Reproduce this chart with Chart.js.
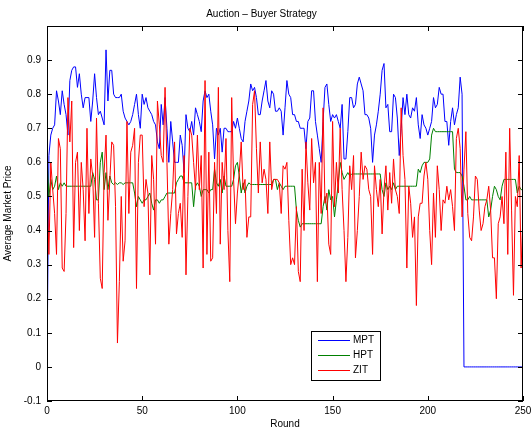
<!DOCTYPE html>
<html>
<head>
<meta charset="utf-8">
<script src="https://cdn.jsdelivr.net/npm/chart.js@4"></script>
<style>
  body { margin: 0; background: #fff; }
  canvas { display: block; }
</style>
</head>
<body>
<canvas id="chart" width="531" height="432"></canvas>
<script>
// rounds 0..250 on the x axis
const rounds = Array.from({ length: 251 }, (_, i) => i);

const seriesNames = ['MPT', 'HPT', 'ZIT'];

const mpt = [
  0.00, 0.62, 0.68, 0.70, 0.71, 0.81, 0.78, 0.74, 0.81, 0.77,
  0.74, 0.68, 0.84, 0.87, 0.88, 0.88, 0.82, 0.86, 0.80, 0.76,
  0.79, 0.79, 0.79, 0.72, 0.78, 0.86, 0.79, 0.74, 0.75, 0.73,
  0.71, 0.93, 0.78, 0.87, 0.87, 0.80, 0.79, 0.79, 0.79, 0.80,
  0.75, 0.73, 0.72, 0.71, 0.72, 0.74, 0.77, 0.80, 0.74, 0.70,
  0.80, 0.77, 0.79, 0.76, 0.75, 0.74, 0.72, 0.71, 0.66, 0.64,
  0.77, 0.71, 0.79, 0.70, 0.60, 0.72, 0.66, 0.60, 0.60, 0.60,
  0.68, 0.65, 0.57, 0.74, 0.70, 0.69, 0.72, 0.68, 0.76, 0.74,
  0.72, 0.69, 0.78, 0.81, 0.79, 0.80, 0.75, 0.71, 0.61, 0.70,
  0.68, 0.70, 0.63, 0.70, 0.70, 0.69, 0.69, 0.69, 0.72, 0.70,
  0.73, 0.70, 0.67, 0.66, 0.72, 0.75, 0.78, 0.83, 0.81, 0.82,
  0.79, 0.74, 0.74, 0.78, 0.81, 0.84, 0.78, 0.76, 0.81, 0.80,
  0.75, 0.75, 0.76, 0.75, 0.68, 0.76, 0.84, 0.80, 0.79, 0.74,
  0.74, 0.72, 0.72, 0.70, 0.70, 0.70, 0.64, 0.72, 0.73, 0.81,
  0.81, 0.72, 0.68, 0.64, 0.60, 0.72, 0.82, 0.83, 0.77, 0.72,
  0.74, 0.73, 0.74, 0.72, 0.70, 0.77, 0.61, 0.61, 0.69, 0.79,
  0.79, 0.76, 0.77, 0.83, 0.85, 0.83, 0.81, 0.74, 0.74, 0.73,
  0.70, 0.60, 0.68, 0.71, 0.75, 0.80, 0.87, 0.89, 0.76, 0.77,
  0.69, 0.69, 0.80, 0.79, 0.73, 0.62, 0.70, 0.79, 0.74, 0.80,
  0.74, 0.73, 0.76, 0.75, 0.79, 0.71, 0.67, 0.74, 0.71, 0.70,
  0.68, 0.70, 0.72, 0.79, 0.76, 0.77, 0.82, 0.80, 0.80, 0.72,
  0.72, 0.65, 0.72, 0.76, 0.71, 0.74, 0.76, 0.85, 0.80, 0.00,
  0, 0, 0, 0, 0, 0, 0, 0, 0, 0,
  0, 0, 0, 0, 0, 0, 0, 0, 0, 0,
  0, 0, 0, 0, 0, 0, 0, 0, 0, 0,
  0
];

const hpt = [
  0.62, 0.50, 0.55, 0.52, 0.53, 0.56, 0.52, 0.54, 0.53, 0.54,
  0.53, 0.53, 0.53, 0.53, 0.53, 0.53, 0.53, 0.53, 0.53, 0.53,
  0.53, 0.53, 0.53, 0.53, 0.57, 0.55, 0.49, 0.49, 0.60, 0.63,
  0.52, 0.57, 0.52, 0.56, 0.54, 0.535, 0.54, 0.535, 0.54, 0.54,
  0.535, 0.54, 0.54, 0.54, 0.54, 0.54, 0.51, 0.47, 0.50, 0.49,
  0.48, 0.49, 0.49, 0.50, 0.51, 0.48, 0.46, 0.49, 0.49, 0.48,
  0.49, 0.49, 0.50, 0.51, 0.51, 0.51, 0.51, 0.51, 0.54, 0.55,
  0.56, 0.56, 0.54, 0.54, 0.54, 0.54, 0.54, 0.47, 0.53, 0.54,
  0.53, 0.50, 0.52, 0.52, 0.52, 0.51, 0.52, 0.52, 0.58, 0.54,
  0.53, 0.55, 0.51, 0.56, 0.53, 0.53, 0.53, 0.53, 0.55, 0.59,
  0.60, 0.56, 0.51, 0.54, 0.51, 0.53, 0.54, 0.535, 0.535, 0.535,
  0.535, 0.535, 0.535, 0.535, 0.535, 0.535, 0.535, 0.535, 0.535, 0.55,
  0.55, 0.52, 0.54, 0.53, 0.52, 0.53, 0.53, 0.53, 0.53, 0.53,
  0.53, 0.46, 0.43, 0.41, 0.42, 0.42, 0.42, 0.42, 0.42, 0.42,
  0.42, 0.42, 0.42, 0.42, 0.42, 0.47, 0.50, 0.46, 0.52, 0.49,
  0.50, 0.44, 0.49, 0.54, 0.60, 0.57, 0.55, 0.56, 0.57, 0.56,
  0.566, 0.566, 0.566, 0.566, 0.566, 0.566, 0.566, 0.566, 0.566, 0.566,
  0.566, 0.566, 0.566, 0.566, 0.566, 0.566, 0.52, 0.50, 0.54, 0.52,
  0.53, 0.52, 0.54, 0.52, 0.53, 0.53, 0.53, 0.53, 0.53, 0.53,
  0.53, 0.53, 0.53, 0.53, 0.53, 0.58, 0.57, 0.59, 0.60, 0.60,
  0.60, 0.61, 0.68, 0.70, 0.69, 0.69, 0.69, 0.69, 0.69, 0.69,
  0.69, 0.69, 0.69, 0.69, 0.58, 0.57, 0.57, 0.57, 0.56, 0.53,
  0.49, 0.49, 0.50, 0.49, 0.49, 0.49, 0.49, 0.49, 0.49, 0.49,
  0.49, 0.49, 0.44, 0.46, 0.50, 0.53, 0.52, 0.50, 0.49, 0.53,
  0.55, 0.55, 0.55, 0.55, 0.55, 0.55, 0.55, 0.51, 0.53, 0.52,
  0.52
];

const zit = [
  0.55, 0.33, 0.60, 0.52, 0.45, 0.33, 0.67, 0.64, 0.29, 0.28,
  0.45, 0.79, 0.66, 0.78, 0.35, 0.60, 0.63, 0.40, 0.60, 0.52,
  0.37, 0.70, 0.45, 0.61, 0.56, 0.38, 0.73, 0.48, 0.26, 0.23,
  0.57, 0.68, 0.43, 0.55, 0.66, 0.65, 0.47, 0.07, 0.25, 0.50,
  0.31, 0.37, 0.72, 0.45, 0.63, 0.65, 0.70, 0.23, 0.60, 0.68,
  0.68, 0.47, 0.55, 0.51, 0.27, 0.62, 0.55, 0.36, 0.78, 0.71,
  0.62, 0.60, 0.82, 0.60, 0.36, 0.45, 0.52, 0.66, 0.39, 0.45,
  0.48, 0.38, 0.62, 0.27, 0.50, 0.70, 0.68, 0.60, 0.52, 0.68,
  0.52, 0.62, 0.29, 0.84, 0.33, 0.63, 0.31, 0.32, 0.60, 0.45,
  0.82, 0.36, 0.60, 0.52, 0.67, 0.40, 0.25, 0.79, 0.55, 0.42,
  0.51, 0.57, 0.66, 0.52, 0.55, 0.38, 0.44, 0.44, 0.77, 0.81,
  0.64, 0.51, 0.66, 0.54, 0.58, 0.55, 0.45, 0.66, 0.52, 0.55,
  0.55, 0.55, 0.54, 0.45, 0.59, 0.58, 0.60, 0.43, 0.30, 0.32,
  0.30, 0.47, 0.28, 0.25, 0.58, 0.40, 0.66, 0.54, 0.46, 0.67,
  0.54, 0.60, 0.25, 0.60, 0.45, 0.76, 0.48, 0.51, 0.36, 0.33,
  0.72, 0.47, 0.60, 0.51, 0.70, 0.52, 0.40, 0.25, 0.38, 0.59,
  0.52, 0.62, 0.32, 0.40, 0.50, 0.63, 0.55, 0.59, 0.58, 0.52,
  0.50, 0.33, 0.59, 0.52, 0.47, 0.55, 0.39, 0.52, 0.59, 0.46,
  0.57, 0.48, 0.61, 0.52, 0.50, 0.45, 0.76, 0.62, 0.55, 0.29,
  0.53, 0.48, 0.38, 0.44, 0.18, 0.44, 0.48, 0.48, 0.56, 0.60,
  0.55, 0.40, 0.30, 0.51, 0.38, 0.59, 0.52, 0.40, 0.49, 0.48,
  0.53, 0.49, 0.52, 0.47, 0.40, 0.67, 0.70, 0.64, 0.44, 0.58,
  0.69, 0.45, 0.38, 0.37, 0.44, 0.56, 0.55, 0.46, 0.40, 0.42,
  0.47, 0.49, 0.53, 0.46, 0.32, 0.32, 0.20, 0.42, 0.44, 0.50,
  0.42, 0.63, 0.33, 0.70, 0.46, 0.21, 0.50, 0.47, 0.62, 0.29,
  0.45
];

const xTicks = [0, 50, 100, 150, 200, 250];
const yTicks = [-0.1, 0, 0.1, 0.2, 0.3, 0.4, 0.5, 0.6, 0.7, 0.8, 0.9];
const yTickLabels = ['-0.1', '0', '0.1', '0.2', '0.3', '0.4', '0.5', '0.6', '0.7', '0.8', '0.9'];

const colores = ['#0000ff', '#008000', '#ff0000'];
const fuente = { family: '"Liberation Sans", Arial, sans-serif', size: 10, weight: 'normal' };

function puntos(valores) {
  return rounds.map((r, i) => ({ x: r, y: valores[i] }));
}

// frame, inward tick marks and the boxed legend, MATLAB style
const marcoMatlab = {
  id: 'marcoMatlab',
  afterDatasetsDraw(chart) {
    const { ctx, chartArea: a, scales: { x, y } } = chart;
    ctx.save();
    ctx.strokeStyle = '#000';
    ctx.lineWidth = 1;
    ctx.strokeRect(a.left + 0.5, a.top + 0.5, a.right - a.left - 1, a.bottom - a.top - 1);

    ctx.beginPath();
    xTicks.forEach(v => {
      const px = Math.round(x.getPixelForValue(v)) + 0.5;
      ctx.moveTo(px, a.bottom); ctx.lineTo(px, a.bottom - 5);
      ctx.moveTo(px, a.top); ctx.lineTo(px, a.top + 5);
    });
    yTicks.forEach(v => {
      const py = Math.round(y.getPixelForValue(v)) + 0.5;
      ctx.moveTo(a.left, py); ctx.lineTo(a.left + 5, py);
      ctx.moveTo(a.right, py); ctx.lineTo(a.right - 5, py);
    });
    ctx.stroke();

    // legend box
    const lx = 311, ly = 331, lw = 69, lh = 49;
    ctx.fillStyle = '#fff';
    ctx.fillRect(lx, ly, lw, lh);
    ctx.strokeRect(lx + 0.5, ly + 0.5, lw, lh);
    ctx.font = '10px "Liberation Sans", Arial, sans-serif';
    ctx.textBaseline = 'middle';
    seriesNames.forEach((nombre, i) => {
      const yy = ly + 9.5 + i * 15;
      ctx.strokeStyle = colores[i];
      ctx.beginPath();
      ctx.moveTo(lx + 7, yy); ctx.lineTo(lx + 39, yy);
      ctx.stroke();
      ctx.fillStyle = '#000';
      ctx.fillText(nombre, lx + 42, yy);
    });
    ctx.restore();
  }
};

const ctx = document.getElementById('chart').getContext('2d');

new Chart(ctx, {
  type: 'line',
  data: {
    datasets: [mpt, hpt, zit].map((valores, i) => ({
      label: seriesNames[i],
      data: puntos(valores),
      borderColor: colores[i],
      borderWidth: 1,
      pointRadius: 0,
      tension: 0,
      fill: false,
      order: 2 - i
    }))
  },
  options: {
    responsive: false,
    animation: false,
    events: [],
    layout: { padding: { left: 0, right: 8, top: 0, bottom: 0 } },
    plugins: {
      legend: { display: false },
      tooltip: { enabled: false },
      title: {
        display: true,
        text: 'Auction \u2013 Buyer Strategy',
        color: '#000',
        font: fuente,
        padding: { top: 8, bottom: 6 }
      }
    },
    scales: {
      x: {
        type: 'linear',
        min: 0,
        max: 250,
        grid: { display: false, drawTicks: false },
        border: { display: false },
        afterBuildTicks: s => { s.ticks = xTicks.map(v => ({ value: v })); },
        afterFit: s => { s.height = 31; s.paddingLeft = 0; s.paddingRight = 0; },
        ticks: { color: '#000', font: fuente, padding: 4, maxRotation: 0 },
        title: { display: true, text: 'Round', color: '#000', font: fuente, padding: { top: 0, bottom: 2 } }
      },
      y: {
        min: -0.1,
        max: 1.0,
        grid: { display: false, drawTicks: false },
        border: { display: false },
        afterBuildTicks: s => { s.ticks = yTicks.map(v => ({ value: v })); },
        afterFit: s => { s.width = 47; s.paddingTop = 0; s.paddingBottom = 0; },
        ticks: {
          color: '#000',
          font: fuente,
          padding: 6,
          callback: (v, i) => yTickLabels[i]
        },
        title: { display: true, text: 'Average Market Price', color: '#000', font: fuente, padding: { top: 2, bottom: 0 } }
      }
    }
  },
  plugins: [marcoMatlab]
});
</script>
</body>
</html>
